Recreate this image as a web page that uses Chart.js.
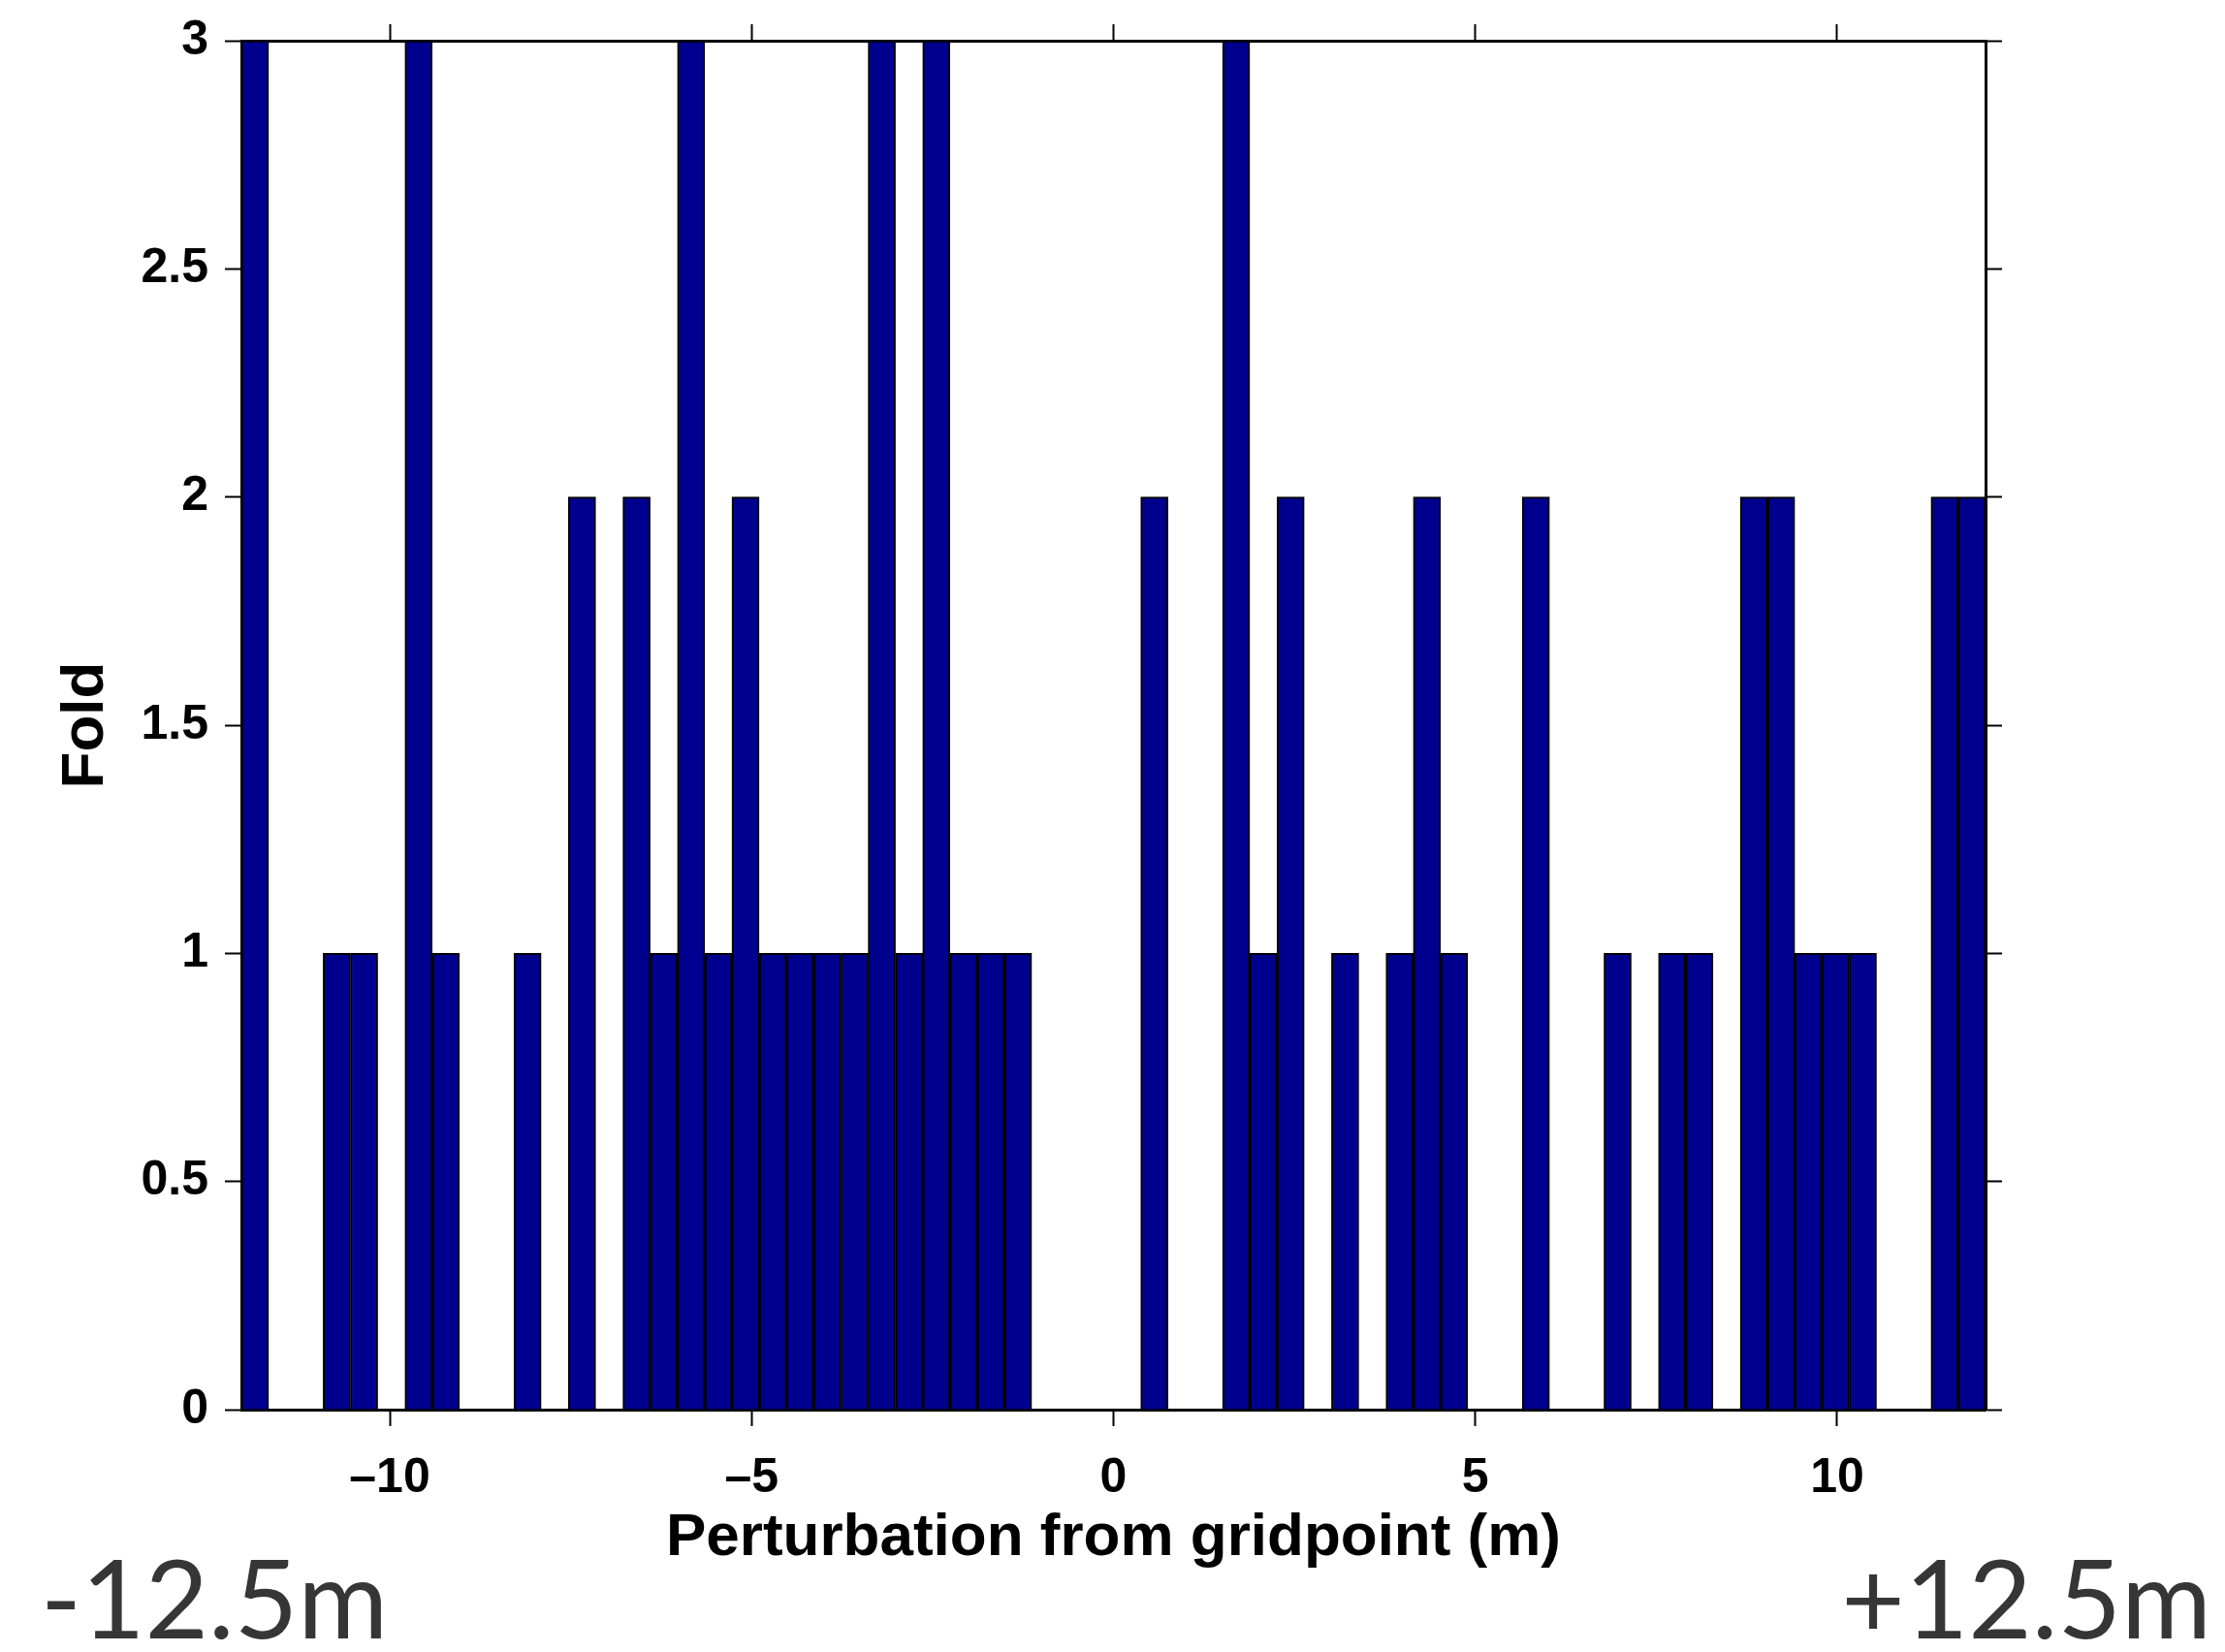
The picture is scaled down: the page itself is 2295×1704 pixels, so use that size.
<!DOCTYPE html>
<html lang="en">
<head>
<meta charset="UTF-8">
<title>Fold vs perturbation from gridpoint</title>
<script src="https://cdn.jsdelivr.net/npm/chart.js"></script>
<style>
  body { margin: 0; background: #fff; }
  #wrap { position: relative; width: 2295px; height: 1704px; }
  .edge { position: absolute; top: 1590px; font-family: Lato, sans-serif; font-size: 113px; line-height: 113px; color: #363636; white-space: nowrap; }
</style>
</head>
<body>
<div id="wrap">
  <canvas id="foldChart" width="2295" height="1704"></canvas>
  <div class="edge" style="left:42px">-12.5m</div>
  <div class="edge" style="right:14px">+12.5m</div>
</div>
<script>
// histogram bins that hold at least one trace (bin centre in m) and their fold
const binCenters = [
  -11.862, -10.732, -10.355, -9.602, -9.226, -8.096, -7.343, -6.590, -6.213, -5.837,
  -5.460, -5.084, -4.707, -4.331, -3.954, -3.577, -3.201, -2.824, -2.448, -2.071,
  -1.695, -1.318, 0.565, 1.695, 2.071, 2.448, 3.201, 3.954, 4.331, 4.707,
  5.837, 6.966, 7.719, 8.096, 8.849, 9.226, 9.602, 9.979, 10.355, 11.485, 11.862
];
const foldCounts = [
  3, 1, 1, 3, 1, 1, 2, 2, 1, 3,
  1, 2, 1, 1, 1, 1, 3, 1, 3, 1,
  1, 1, 2, 3, 1, 2, 1, 1, 2, 1,
  2, 1, 1, 1, 2, 2, 1, 1, 1, 2, 2
];
const xTickValues = [-10, -5, 0, 5, 10];
const yTickValues = [0, 0.5, 1, 1.5, 2, 2.5, 3];
const xMin = -12.05, xMax = 12.05;

const tickFont = { family: '"Liberation Sans", Arial, sans-serif', size: 50, weight: 'bold', lineHeight: 1 };
const titleFont = { family: '"Liberation Sans", Arial, sans-serif', size: 62, weight: 'bold' };
const axisGrid = { drawOnChartArea: false, tickLength: 17, tickWidth: 2, tickColor: '#000', offset: false };
const axisBorder = { display: true, color: '#000', width: 3 };

function minusLabel(v) {
  return v < 0 ? '\u2013' + Math.abs(v) : String(v);
}

const ctx = document.getElementById('foldChart').getContext('2d');
new Chart(ctx, {
  type: 'bar',
  data: {
    datasets: [{
      data: binCenters.map((x, i) => ({ x: x, y: foldCounts[i] })),
      backgroundColor: '#00008F',
      borderColor: '#000',
      borderWidth: 2,
      categoryPercentage: 1,
      barPercentage: 1
    }]
  },
  options: {
    responsive: false,
    animation: false,
    layout: { padding: 0 },
    plugins: { legend: { display: false }, tooltip: { enabled: false } },
    scales: {
      x: {
        type: 'linear', position: 'bottom', min: xMin, max: xMax, offset: false,
        afterBuildTicks: s => { s.ticks = xTickValues.map(v => ({ value: v })); },
        afterFit: s => { s.height = 250; },
        ticks: { font: tickFont, color: '#000', padding: 29, callback: minusLabel },
        grid: axisGrid,
        border: axisBorder,
        title: { display: true, text: 'Perturbation from gridpoint (m)', font: titleFont, color: '#000', padding: { top: 0, bottom: 80 } }
      },
      x2: {
        type: 'linear', position: 'top', min: xMin, max: xMax, offset: false,
        afterBuildTicks: s => { s.ticks = xTickValues.map(v => ({ value: v })); },
        afterFit: s => { s.height = 37; },
        ticks: { display: false },
        grid: axisGrid,
        border: axisBorder
      },
      y: {
        type: 'linear', position: 'left', min: 0, max: 3,
        afterBuildTicks: s => { s.ticks = yTickValues.map(v => ({ value: v })); },
        afterFit: s => { s.width = 249; },
        ticks: { font: tickFont, color: '#000', padding: 17, callback: v => String(v) },
        grid: axisGrid,
        border: axisBorder,
        title: { display: true, text: 'Fold', font: titleFont, color: '#000', padding: { top: 52, bottom: 0 } }
      },
      y2: {
        type: 'linear', position: 'right', min: 0, max: 3,
        afterBuildTicks: s => { s.ticks = yTickValues.map(v => ({ value: v })); },
        afterFit: s => { s.width = 247; },
        ticks: { display: false },
        grid: axisGrid,
        border: axisBorder
      }
    }
  }
});
</script>
</body>
</html>
